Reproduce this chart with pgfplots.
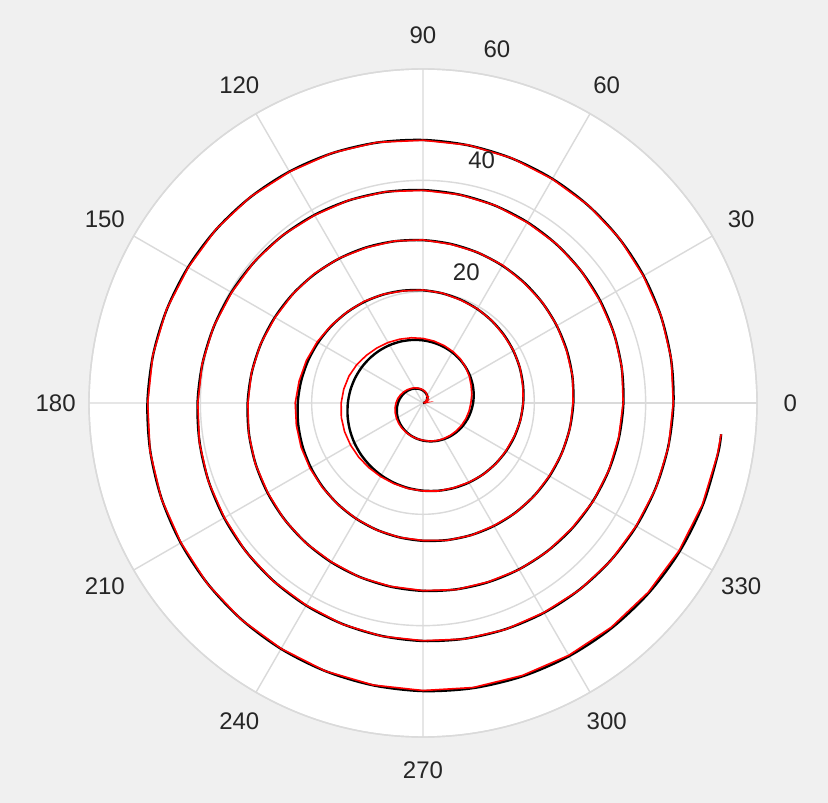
\documentclass[border=0pt]{standalone}
\usepackage{pgfplots}
\pgfplotsset{compat=1.18}
\usepgfplotslibrary{polar}
\usepackage{fontspec}
\setmainfont{Liberation Sans}

\definecolor{figbg}{HTML}{F0F0F0}
\definecolor{gridc}{HTML}{DADADA}
\definecolor{txt}{HTML}{262626}
\definecolor{fitred}{HTML}{FF0000}

\tikzset{lbl/.style={font=\fontsize{12bp}{14bp}\selectfont, text=txt, inner sep=0pt}}

\begin{document}
\begin{tikzpicture}
  % figure background
  \path[use as bounding box, fill=figbg] (0,0) rectangle (414bp,401.5bp);
  % white polar disk
  \fill[white] (211.5bp,200bp) circle (167bp);
  \begin{polaraxis}[
      at={(211.5bp,200bp)}, anchor=center,
      scale only axis, width=334bp, height=334bp,
      ymin=0, ymax=60,
      xtick={0,30,...,330}, ytick={20,40,60},
      xticklabels={}, yticklabels={},
      major tick length=0pt,
      xmajorgrids, ymajorgrids,
      grid style={gridc, line width=0.7bp},
      axis line style={gridc, line width=0.7bp},
      clip=false,
    ]
    % spiral r = theta/40 (theta in degrees)
    \addplot[black, line width=1.2bp, smooth, no markers] coordinates {
      (0,0) (10,0.25) (20,0.5) (30,0.75) (40,1) (50,1.25) (60,1.5) (70,1.75) (80,2)
      (90,2.25) (100,2.5) (110,2.75) (120,3) (130,3.25) (140,3.5) (150,3.75) (160,4) (170,4.25)
      (180,4.5) (190,4.75) (200,5) (210,5.25) (220,5.5) (230,5.75) (240,6) (250,6.25) (260,6.5)
      (270,6.75) (280,7) (290,7.25) (300,7.5) (310,7.75) (320,8) (330,8.25) (340,8.5) (350,8.75)
      (360,9) (370,9.25) (380,9.5) (390,9.75) (400,10) (410,10.25) (420,10.5) (430,10.75) (440,11)
      (450,11.25) (460,11.5) (470,11.75) (480,12) (490,12.25) (500,12.5) (510,12.75) (520,13) (530,13.25)
      (540,13.5) (550,13.75) (560,14) (570,14.25) (580,14.5) (590,14.75) (600,15) (610,15.25) (620,15.5)
      (630,15.75) (640,16) (650,16.25) (660,16.5) (670,16.75) (680,17) (690,17.25) (700,17.5) (710,17.75)
      (720,18) (730,18.25) (740,18.5) (750,18.75) (760,19) (770,19.25) (780,19.5) (790,19.75) (800,20)
      (810,20.25) (820,20.5) (830,20.75) (840,21) (850,21.25) (860,21.5) (870,21.75) (880,22) (890,22.25)
      (900,22.5) (910,22.75) (920,23) (930,23.25) (940,23.5) (950,23.75) (960,24) (970,24.25) (980,24.5)
      (990,24.75) (1000,25) (1010,25.25) (1020,25.5) (1030,25.75) (1040,26) (1050,26.25) (1060,26.5) (1070,26.75)
      (1080,27) (1090,27.25) (1100,27.5) (1110,27.75) (1120,28) (1130,28.25) (1140,28.5) (1150,28.75) (1160,29)
      (1170,29.25) (1180,29.5) (1190,29.75) (1200,30) (1210,30.25) (1220,30.5) (1230,30.75) (1240,31) (1250,31.25)
      (1260,31.5) (1270,31.75) (1280,32) (1290,32.25) (1300,32.5) (1310,32.75) (1320,33) (1330,33.25) (1340,33.5)
      (1350,33.75) (1360,34) (1370,34.25) (1380,34.5) (1390,34.75) (1400,35) (1410,35.25) (1420,35.5) (1430,35.75)
      (1440,36) (1450,36.25) (1460,36.5) (1470,36.75) (1480,37) (1490,37.25) (1500,37.5) (1510,37.75) (1520,38)
      (1530,38.25) (1540,38.5) (1550,38.75) (1560,39) (1570,39.25) (1580,39.5) (1590,39.75) (1600,40) (1610,40.25)
      (1620,40.5) (1630,40.75) (1640,41) (1650,41.25) (1660,41.5) (1670,41.75) (1680,42) (1690,42.25) (1700,42.5)
      (1710,42.75) (1720,43) (1730,43.25) (1740,43.5) (1750,43.75) (1760,44) (1770,44.25) (1780,44.5) (1790,44.75)
      (1800,45) (1810,45.25) (1820,45.5) (1830,45.75) (1840,46) (1850,46.25) (1860,46.5) (1870,46.75) (1880,47)
      (1890,47.25) (1900,47.5) (1910,47.75) (1920,48) (1930,48.25) (1940,48.5) (1950,48.75) (1960,49) (1970,49.25)
      (1980,49.5) (1990,49.75) (2000,50) (2010,50.25) (2020,50.5) (2030,50.75) (2040,51) (2050,51.25) (2060,51.5)
      (2070,51.75) (2080,52) (2090,52.25) (2100,52.5) (2110,52.75) (2120,53) (2130,53.25) (2140,53.5) (2150,53.75)
      (2154,53.85)
    };
    % noisy measurement of the same spiral
    \addplot[fitred, line width=0.8bp, no markers] coordinates {
      (0,0.2) (10,0.7) (20,0.35) (30,1.0) (40,0.8) (50,1.45) (60,1.4) (70,1.85) (80,2.1)
      (90,2.35) (100,2.6) (110,2.85) (120,3.15) (130,3.4) (140,3.7) (150,4.0) (160,4.3) (170,4.6)
      (180,4.85) (190,5.1) (200,5.3) (210,5.5) (220,5.7) (230,5.9) (240,6.1) (250,6.3) (260,6.5)
      (270,6.7) (280,6.95) (290,7.2) (300,7.4) (310,7.6) (320,7.8) (330,8.0) (340,8.2) (350,8.4)
      (360,8.6) (370,8.9) (380,9.2) (390,9.6) (400,10.0) (410,10.4) (420,10.7) (430,11.0) (440,11.3)
      (450,11.6) (460,11.9) (470,12.2) (480,12.55) (490,12.9) (500,13.3) (510,13.75) (520,14.15) (530,14.45)
      (540,14.7) (550,14.9) (560,15.0) (570,15.05) (580,15.1) (590,15.15) (600,15.25) (610,15.4) (620,15.6)
      (630,15.8) (640,16.05) (650,16.2) (660,16.45) (670,16.8) (680,17.05) (690,17.2) (700,17.45) (710,17.8)
      (720,18.0) (730,18.2) (740,18.55) (750,18.8) (760,18.95) (770,19.3) (780,19.55) (790,19.7) (800,20.05)
      (810,20.3) (820,20.45) (830,20.8) (840,21.1) (850,21.3) (860,21.6) (870,21.95) (880,22.3) (890,22.6)
      (900,22.95) (910,23.1) (920,23.3) (930,23.45) (940,23.6) (950,23.8) (960,24.0) (970,24.3) (980,24.5)
      (990,24.7) (1000,25.05) (1010,25.3) (1020,25.45) (1030,25.8) (1040,26.05) (1050,26.2) (1060,26.55) (1070,26.8)
      (1080,26.95) (1090,27.3) (1100,27.45) (1110,27.8) (1120,28.05) (1130,28.2) (1140,28.6) (1150,28.8) (1160,28.95)
      (1170,29.3) (1180,29.55) (1190,29.7) (1200,30.05) (1210,30.35) (1220,30.5) (1230,30.7) (1240,31.05) (1250,31.3)
      (1260,31.45) (1270,31.8) (1280,32.05) (1290,32.2) (1300,32.55) (1310,32.8) (1320,32.95) (1330,33.3) (1340,33.45)
      (1350,33.7) (1360,34.05) (1370,34.2) (1380,34.55) (1390,34.8) (1400,34.95) (1410,35.3) (1420,35.5) (1430,35.7)
      (1440,35.95) (1450,36.3) (1460,36.55) (1470,36.7) (1480,37.05) (1490,37.3) (1500,37.45) (1510,37.8) (1520,38.0)
      (1530,38.2) (1540,38.55) (1550,38.8) (1560,38.95) (1570,39.3) (1580,39.55) (1590,39.7) (1600,40.05) (1610,40.3)
      (1620,40.45) (1630,40.8) (1640,41.05) (1650,41.2) (1660,41.55) (1670,41.8) (1680,41.95) (1690,42.3) (1700,42.55)
      (1710,42.7) (1720,43.05) (1730,43.3) (1740,43.45) (1750,43.8) (1760,44.05) (1770,44.2) (1780,44.55) (1790,44.8)
      (1800,44.95) (1810,45.3) (1820,45.55) (1830,45.7) (1840,46.05) (1850,46.3) (1860,46.45) (1870,46.8) (1880,47.05)
      (1890,47.2) (1900,47.55) (1910,47.8) (1920,47.95) (1930,48.3) (1940,48.55) (1950,48.7) (1960,49.05) (1970,49.3)
      (1980,49.45) (1990,49.8) (2000,50.05) (2010,50.2) (2020,50.55) (2030,50.8) (2040,50.95) (2050,51.25) (2060,51.45)
      (2070,51.65) (2080,51.9) (2090,52.1) (2100,52.35) (2110,52.6) (2120,52.85) (2130,53.1) (2140,53.4) (2150,53.7)
      (2154,53.85)
    };
    % angular tick labels
    \pgfplotsinvokeforeach{0,30,...,330}{
      \node[lbl] at (axis cs:#1,66) {#1};
    }
    % radial tick labels along 80 degrees
    \node[lbl] at (axis cs:80,20) [xshift=12bp, yshift=10.5bp] {20};
    \node[lbl] at (axis cs:80,40) [xshift=10bp, yshift=11.5bp] {40};
    \node[lbl] at (axis cs:80,60) [xshift=8bp, yshift=12.5bp] {60};
  \end{polaraxis}
\end{tikzpicture}
\end{document}
